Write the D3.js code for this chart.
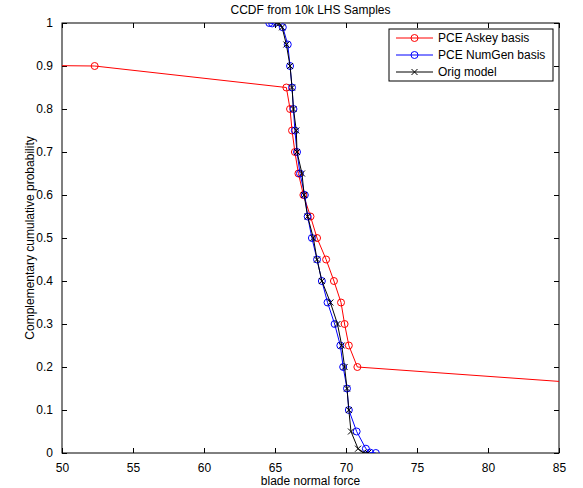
<!DOCTYPE html>
<html>
<head>
<meta charset="utf-8">
<script src="https://cdn.jsdelivr.net/npm/d3@7"></script>
<style>
  body { margin: 0; background: #fff; }
  svg { font-family: "Liberation Sans", Arial, sans-serif; }
</style>
</head>
<body>
<div id="chart"></div>
<script>
// probability levels of the CCDF
const levels = [1, 0.999, 0.99, 0.95, 0.9, 0.85, 0.8, 0.75, 0.7, 0.65, 0.6, 0.55, 0.5,
  0.45, 0.4, 0.35, 0.3, 0.25, 0.2, 0.15, 0.1, 0.05, 0.01, 0.001, 0];

const numGenX = [64.6, 64.8, 65.55, 65.9, 66.06, 66.2, 66.3, 66.4, 66.55, 66.76, 67.1, 67.3, 67.6,
  67.96, 68.3, 68.7, 69.2, 69.6, 69.8, 70.07, 70.2, 70.75, 71.4, 71.7, 72.1];
const origX = [65.1, 65.3, 65.5, 65.8, 66.06, 66.2, 66.3, 66.5, 66.55, 66.9, 67.05, 67.3, 67.7,
  67.96, 68.3, 68.9, 69.4, 69.7, 69.9, 70.07, 70.2, 70.35, 70.85, 71.2, 71.55];

// Askey basis curve: only the 0.95 .. 0.15 levels, tails run off the axes
const askeyLevels = [0.95, 0.9, 0.85, 0.8, 0.75, 0.7, 0.65, 0.6, 0.55, 0.5, 0.45, 0.4, 0.35,
  0.3, 0.25, 0.2, 0.15];
const askeyX = [-100, 52.3, 65.8, 66.06, 66.2, 66.4, 66.65, 67.0, 67.5, 67.96, 68.6, 69.15,
  69.65, 69.9, 70.2, 70.8, 92];

const xTicks = [50, 55, 60, 65, 70, 75, 80, 85];
const yTicks = [0, 0.1, 0.2, 0.3, 0.4, 0.5, 0.6, 0.7, 0.8, 0.9, 1];

const series = [
  { name: 'PCE Askey basis', color: '#ff0000', marker: 'circle', xs: askeyX, ys: askeyLevels },
  { name: 'PCE NumGen basis', color: '#0000ff', marker: 'circle', xs: numGenX, ys: levels },
  { name: 'Orig model', color: '#000000', marker: 'cross', xs: origX, ys: levels }
];

const width = 583, height = 488;
const m = { top: 23, right: 24, bottom: 35, left: 62 };
const fs = 12;

const svg = d3.select('#chart').append('svg')
  .attr('width', width)
  .attr('height', height);

const x = d3.scaleLinear().domain([50, 85]).range([m.left, width - m.right]);
const y = d3.scaleLinear().domain([0, 1]).range([height - m.bottom, m.top]);

svg.append('clipPath').attr('id', 'plotclip')
  .append('rect')
  .attr('x', x(50)).attr('y', y(1))
  .attr('width', x(85) - x(50)).attr('height', y(0) - y(1));

// axes, matlab style: ticks inside, on all four sides
const tl = 5;
const fmtY = d => d === 0 || d === 1 ? d3.format('d')(d) : d3.format('.1f')(d);

svg.append('g')
  .attr('transform', `translate(0,${y(0)})`)
  .call(d3.axisBottom(x).tickValues(xTicks).tickSizeInner(-tl).tickSizeOuter(0).tickPadding(5 + tl))
  .call(g => g.select('.domain').remove());
svg.append('g')
  .attr('transform', `translate(0,${y(1)})`)
  .call(d3.axisTop(x).tickValues(xTicks).tickSizeInner(-tl).tickSizeOuter(0).tickFormat(''))
  .call(g => g.select('.domain').remove());
svg.append('g')
  .attr('transform', `translate(${x(50)},0)`)
  .call(d3.axisLeft(y).tickValues(yTicks).tickFormat(fmtY).tickSizeInner(-tl).tickSizeOuter(0).tickPadding(4 + tl))
  .call(g => g.select('.domain').remove());
svg.append('g')
  .attr('transform', `translate(${x(85)},0)`)
  .call(d3.axisRight(y).tickValues(yTicks).tickSizeInner(-tl).tickSizeOuter(0).tickFormat(''))
  .call(g => g.select('.domain').remove());

svg.selectAll('.tick text').attr('font-size', fs).attr('fill', '#000')
  .attr('font-family', '"Liberation Sans", Arial, sans-serif');
svg.selectAll('.tick line').attr('stroke', '#000');

svg.append('rect')
  .attr('x', x(50)).attr('y', y(1))
  .attr('width', x(85) - x(50)).attr('height', y(0) - y(1))
  .attr('fill', 'none').attr('stroke', '#000').attr('stroke-width', 1);

// data
const plot = svg.append('g').attr('clip-path', 'url(#plotclip)');
const line = d3.line().x(d => x(d[0])).y(d => y(d[1]));

function drawMarker(sel, type, color) {
  if (type === 'circle') {
    sel.append('circle').attr('r', 3.5)
      .attr('fill', 'none').attr('stroke', color).attr('stroke-width', 1);
  } else {
    sel.append('path').attr('d', 'M-3,-3L3,3M-3,3L3,-3')
      .attr('stroke', color).attr('stroke-width', 1);
  }
}

series.forEach(s => {
  const pts = s.xs.map((v, i) => [v, s.ys[i]]);
  plot.append('path')
    .datum(pts)
    .attr('d', line)
    .attr('fill', 'none')
    .attr('stroke', s.color)
    .attr('stroke-width', 1);
  plot.selectAll(null)
    .data(pts.filter(p => p[0] >= 49 && p[0] <= 86))
    .join('g')
    .attr('transform', d => `translate(${x(d[0])},${y(d[1])})`)
    .each(function () { drawMarker(d3.select(this), s.marker, s.color); });
});

// title and labels
svg.append('text')
  .attr('x', (x(50) + x(85)) / 2).attr('y', 14)
  .attr('text-anchor', 'middle').attr('font-size', fs)
  .text('CCDF from 10k LHS Samples');
svg.append('text')
  .attr('x', (x(50) + x(85)) / 2).attr('y', 485)
  .attr('text-anchor', 'middle').attr('font-size', fs)
  .text('blade normal force');
svg.append('text')
  .attr('transform', `translate(34,${(y(0) + y(1)) / 2}) rotate(-90)`)
  .attr('text-anchor', 'middle').attr('font-size', fs)
  .text('Complementary cumulative probability');

// legend
const lg = svg.append('g').attr('transform', 'translate(389,29)');
lg.append('rect').attr('width', 164).attr('height', 52)
  .attr('fill', '#fff').attr('stroke', '#000').attr('stroke-width', 1);
series.forEach((s, i) => {
  const row = lg.append('g').attr('transform', `translate(0,${9 + i * 17})`);
  row.append('line').attr('x1', 7).attr('x2', 44)
    .attr('stroke', s.color).attr('stroke-width', 1);
  drawMarker(row.append('g').attr('transform', 'translate(25.5,0)'), s.marker, s.color);
  row.append('text').attr('x', 49).attr('y', 4).attr('font-size', fs).text(s.name);
});
</script>
</body>
</html>
